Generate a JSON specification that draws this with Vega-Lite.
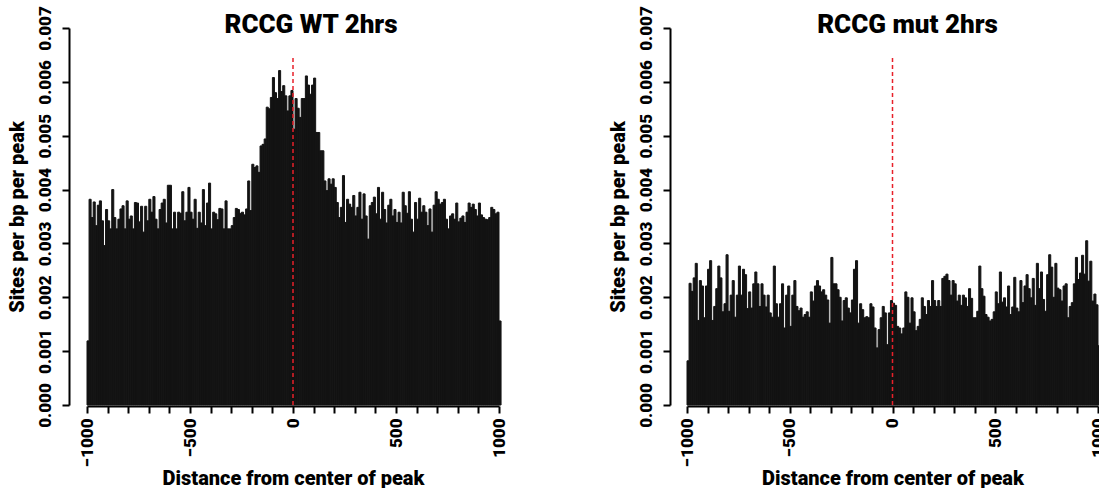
{
"$schema": "https://vega.github.io/schema/vega-lite/v6.json",
"background": "white",
"padding": {"left": 7, "top": 5, "right": 0, "bottom": 0},
"bounds": "flush",
"spacing": 188,
"config": {
  "view": {"stroke": null},
  "font": "Roboto",
  "axis": {"grid": false, "domainColor": "#000000", "domainWidth": 2, "tickColor": "#000000", "tickWidth": 2, "tickSize": 7, "labelFont": "Roboto", "labelFontWeight": 900, "labelFontSize": 17, "labelColor": "#000000", "titleFont": "Roboto", "titleFontWeight": 900, "titleFontSize": 20, "titleColor": "#000000", "labelFlush": false, "labelOverlap": false},
  "title": {"font": "Roboto", "fontWeight": 900, "fontSize": 26, "color": "#000000", "frame": "group", "anchor": "middle"}
},
"datasets": {
"ref": [{"x": 0, "y": 0, "y2": 0.0065}],
"wt": [
{"x":-1000,"x2":-990,"y":0.00119},{"x":-990,"x2":-980,"y":0.00382},{"x":-980,"x2":-970,"y":0.00348},{"x":-970,"x2":-960,"y":0.00377},{"x":-960,"x2":-950,"y":0.00333},{"x":-950,"x2":-940,"y":0.00371},{"x":-940,"x2":-930,"y":0.00379},{"x":-930,"x2":-920,"y":0.00342},{"x":-920,"x2":-910,"y":0.00296},{"x":-910,"x2":-900,"y":0.00363},
{"x":-900,"x2":-890,"y":0.00342},{"x":-890,"x2":-880,"y":0.00327},{"x":-880,"x2":-870,"y":0.00400},{"x":-870,"x2":-860,"y":0.00348},{"x":-860,"x2":-850,"y":0.00327},{"x":-850,"x2":-840,"y":0.00345},{"x":-840,"x2":-830,"y":0.00364},{"x":-830,"x2":-820,"y":0.00370},{"x":-820,"x2":-810,"y":0.00327},{"x":-810,"x2":-800,"y":0.00379},
{"x":-800,"x2":-790,"y":0.00345},{"x":-790,"x2":-780,"y":0.00351},{"x":-780,"x2":-770,"y":0.00327},{"x":-770,"x2":-760,"y":0.00376},{"x":-760,"x2":-750,"y":0.00375},{"x":-750,"x2":-740,"y":0.00340},{"x":-740,"x2":-730,"y":0.00369},{"x":-730,"x2":-720,"y":0.00321},{"x":-720,"x2":-710,"y":0.00369},{"x":-710,"x2":-700,"y":0.00342},
{"x":-700,"x2":-690,"y":0.00382},{"x":-690,"x2":-680,"y":0.00358},{"x":-680,"x2":-670,"y":0.00387},{"x":-670,"x2":-660,"y":0.00345},{"x":-660,"x2":-650,"y":0.00327},{"x":-650,"x2":-640,"y":0.00363},{"x":-640,"x2":-630,"y":0.00375},{"x":-630,"x2":-620,"y":0.00382},{"x":-620,"x2":-610,"y":0.00338},{"x":-610,"x2":-600,"y":0.00408},
{"x":-600,"x2":-590,"y":0.00408},{"x":-590,"x2":-580,"y":0.00327},{"x":-580,"x2":-570,"y":0.00358},{"x":-570,"x2":-560,"y":0.00327},{"x":-560,"x2":-550,"y":0.00358},{"x":-550,"x2":-540,"y":0.00356},{"x":-540,"x2":-530,"y":0.00396},{"x":-530,"x2":-520,"y":0.00342},{"x":-520,"x2":-510,"y":0.00358},{"x":-510,"x2":-500,"y":0.00404},
{"x":-500,"x2":-490,"y":0.00358},{"x":-490,"x2":-480,"y":0.00345},{"x":-480,"x2":-470,"y":0.00382},{"x":-470,"x2":-460,"y":0.00328},{"x":-460,"x2":-450,"y":0.00358},{"x":-450,"x2":-440,"y":0.00338},{"x":-440,"x2":-430,"y":0.00400},{"x":-430,"x2":-420,"y":0.00333},{"x":-420,"x2":-410,"y":0.00375},{"x":-410,"x2":-400,"y":0.00412},
{"x":-400,"x2":-390,"y":0.00327},{"x":-390,"x2":-380,"y":0.00358},{"x":-380,"x2":-370,"y":0.00355},{"x":-370,"x2":-360,"y":0.00344},{"x":-360,"x2":-350,"y":0.00365},{"x":-350,"x2":-340,"y":0.00364},{"x":-340,"x2":-330,"y":0.00327},{"x":-330,"x2":-320,"y":0.00379},{"x":-320,"x2":-310,"y":0.00327},{"x":-310,"x2":-300,"y":0.00327},
{"x":-300,"x2":-290,"y":0.00333},{"x":-290,"x2":-280,"y":0.00348},{"x":-280,"x2":-270,"y":0.00365},{"x":-270,"x2":-260,"y":0.00363},{"x":-260,"x2":-250,"y":0.00356},{"x":-250,"x2":-240,"y":0.00358},{"x":-240,"x2":-230,"y":0.00353},{"x":-230,"x2":-220,"y":0.00364},{"x":-220,"x2":-210,"y":0.00416},{"x":-210,"x2":-200,"y":0.00361},
{"x":-200,"x2":-190,"y":0.00447},{"x":-190,"x2":-180,"y":0.00441},{"x":-180,"x2":-170,"y":0.00444},{"x":-170,"x2":-160,"y":0.00432},{"x":-160,"x2":-150,"y":0.00481},{"x":-150,"x2":-140,"y":0.00484},{"x":-140,"x2":-130,"y":0.00494},{"x":-130,"x2":-120,"y":0.00553},{"x":-120,"x2":-110,"y":0.00550},{"x":-110,"x2":-100,"y":0.00571},
{"x":-100,"x2":-90,"y":0.00608},{"x":-90,"x2":-80,"y":0.00580},{"x":-80,"x2":-70,"y":0.00569},{"x":-70,"x2":-60,"y":0.00621},{"x":-60,"x2":-50,"y":0.00582},{"x":-50,"x2":-40,"y":0.00593},{"x":-40,"x2":-30,"y":0.00574},{"x":-30,"x2":-20,"y":0.00546},{"x":-20,"x2":-10,"y":0.00574},{"x":-10,"x2":0,"y":0.00584},
{"x":0,"x2":10,"y":0.00512},{"x":10,"x2":20,"y":0.00569},{"x":20,"x2":30,"y":0.00551},{"x":30,"x2":40,"y":0.00534},{"x":40,"x2":50,"y":0.00569},{"x":50,"x2":60,"y":0.00569},{"x":60,"x2":70,"y":0.00611},{"x":70,"x2":80,"y":0.00594},{"x":80,"x2":90,"y":0.00577},{"x":90,"x2":100,"y":0.00594},
{"x":100,"x2":110,"y":0.00607},{"x":110,"x2":120,"y":0.00506},{"x":120,"x2":130,"y":0.00506},{"x":130,"x2":140,"y":0.00472},{"x":140,"x2":150,"y":0.00472},{"x":150,"x2":160,"y":0.00416},{"x":160,"x2":170,"y":0.00398},{"x":170,"x2":180,"y":0.00420},{"x":180,"x2":190,"y":0.00410},{"x":190,"x2":200,"y":0.00420},
{"x":200,"x2":210,"y":0.00404},{"x":210,"x2":220,"y":0.00376},{"x":220,"x2":230,"y":0.00348},{"x":230,"x2":240,"y":0.00367},{"x":240,"x2":250,"y":0.00426},{"x":250,"x2":260,"y":0.00339},{"x":260,"x2":270,"y":0.00382},{"x":270,"x2":280,"y":0.00373},{"x":280,"x2":290,"y":0.00367},{"x":290,"x2":300,"y":0.00389},
{"x":300,"x2":310,"y":0.00351},{"x":310,"x2":320,"y":0.00367},{"x":320,"x2":330,"y":0.00395},{"x":330,"x2":340,"y":0.00345},{"x":340,"x2":350,"y":0.00392},{"x":350,"x2":360,"y":0.00351},{"x":360,"x2":370,"y":0.00308},{"x":370,"x2":380,"y":0.00370},{"x":380,"x2":390,"y":0.00376},{"x":390,"x2":400,"y":0.00386},
{"x":400,"x2":410,"y":0.00355},{"x":410,"x2":420,"y":0.00404},{"x":420,"x2":430,"y":0.00345},{"x":430,"x2":440,"y":0.00395},{"x":440,"x2":450,"y":0.00363},{"x":450,"x2":460,"y":0.00338},{"x":460,"x2":470,"y":0.00371},{"x":470,"x2":480,"y":0.00382},{"x":480,"x2":490,"y":0.00351},{"x":490,"x2":500,"y":0.00363},
{"x":500,"x2":510,"y":0.00339},{"x":510,"x2":520,"y":0.00358},{"x":520,"x2":530,"y":0.00338},{"x":530,"x2":540,"y":0.00395},{"x":540,"x2":550,"y":0.00370},{"x":550,"x2":560,"y":0.00356},{"x":560,"x2":570,"y":0.00396},{"x":570,"x2":580,"y":0.00345},{"x":580,"x2":590,"y":0.00321},{"x":590,"x2":600,"y":0.00376},
{"x":600,"x2":610,"y":0.00345},{"x":610,"x2":620,"y":0.00384},{"x":620,"x2":630,"y":0.00358},{"x":630,"x2":640,"y":0.00370},{"x":640,"x2":650,"y":0.00358},{"x":650,"x2":660,"y":0.00333},{"x":660,"x2":670,"y":0.00364},{"x":670,"x2":680,"y":0.00321},{"x":680,"x2":690,"y":0.00371},{"x":690,"x2":700,"y":0.00396},
{"x":700,"x2":710,"y":0.00382},{"x":710,"x2":720,"y":0.00373},{"x":720,"x2":730,"y":0.00376},{"x":730,"x2":740,"y":0.00382},{"x":740,"x2":750,"y":0.00345},{"x":750,"x2":760,"y":0.00327},{"x":760,"x2":770,"y":0.00351},{"x":770,"x2":780,"y":0.00355},{"x":780,"x2":790,"y":0.00345},{"x":790,"x2":800,"y":0.00375},
{"x":800,"x2":810,"y":0.00340},{"x":810,"x2":820,"y":0.00347},{"x":820,"x2":830,"y":0.00351},{"x":830,"x2":840,"y":0.00339},{"x":840,"x2":850,"y":0.00358},{"x":850,"x2":860,"y":0.00375},{"x":860,"x2":870,"y":0.00367},{"x":870,"x2":880,"y":0.00373},{"x":880,"x2":890,"y":0.00363},{"x":890,"x2":900,"y":0.00351},
{"x":900,"x2":910,"y":0.00375},{"x":910,"x2":920,"y":0.00353},{"x":920,"x2":930,"y":0.00348},{"x":930,"x2":940,"y":0.00345},{"x":940,"x2":950,"y":0.00344},{"x":950,"x2":960,"y":0.00348},{"x":960,"x2":970,"y":0.00367},{"x":970,"x2":980,"y":0.00363},{"x":980,"x2":990,"y":0.00355},{"x":990,"x2":1000,"y":0.00358},
{"x":1000,"x2":1010,"y":0.00156}
],
"mut": [
{"x":-1000,"x2":-990,"y":0.00082},{"x":-990,"x2":-980,"y":0.00226},{"x":-980,"x2":-970,"y":0.00211},{"x":-970,"x2":-960,"y":0.00236},{"x":-960,"x2":-950,"y":0.00263},{"x":-950,"x2":-940,"y":0.00157},{"x":-940,"x2":-930,"y":0.00231},{"x":-930,"x2":-920,"y":0.00221},{"x":-920,"x2":-910,"y":0.00162},{"x":-910,"x2":-900,"y":0.00221},
{"x":-900,"x2":-890,"y":0.00252},{"x":-890,"x2":-880,"y":0.00268},{"x":-880,"x2":-870,"y":0.00157},{"x":-870,"x2":-860,"y":0.00183},{"x":-860,"x2":-850,"y":0.00216},{"x":-850,"x2":-840,"y":0.00258},{"x":-840,"x2":-830,"y":0.00236},{"x":-830,"x2":-820,"y":0.00173},{"x":-820,"x2":-810,"y":0.00188},{"x":-810,"x2":-800,"y":0.00279},
{"x":-800,"x2":-790,"y":0.00174},{"x":-790,"x2":-780,"y":0.00204},{"x":-780,"x2":-770,"y":0.00231},{"x":-770,"x2":-760,"y":0.00163},{"x":-760,"x2":-750,"y":0.00204},{"x":-750,"x2":-740,"y":0.00258},{"x":-740,"x2":-730,"y":0.00204},{"x":-730,"x2":-720,"y":0.00252},{"x":-720,"x2":-710,"y":0.00242},{"x":-710,"x2":-700,"y":0.00179},
{"x":-700,"x2":-690,"y":0.00210},{"x":-690,"x2":-680,"y":0.00180},{"x":-680,"x2":-670,"y":0.00225},{"x":-670,"x2":-660,"y":0.00247},{"x":-660,"x2":-650,"y":0.00225},{"x":-650,"x2":-640,"y":0.00183},{"x":-640,"x2":-630,"y":0.00225},{"x":-630,"x2":-620,"y":0.00204},{"x":-620,"x2":-610,"y":0.00182},{"x":-610,"x2":-600,"y":0.00204},
{"x":-600,"x2":-590,"y":0.00171},{"x":-590,"x2":-580,"y":0.00163},{"x":-580,"x2":-570,"y":0.00258},{"x":-570,"x2":-560,"y":0.00188},{"x":-560,"x2":-550,"y":0.00163},{"x":-550,"x2":-540,"y":0.00188},{"x":-540,"x2":-530,"y":0.00225},{"x":-530,"x2":-520,"y":0.00143},{"x":-520,"x2":-510,"y":0.00204},{"x":-510,"x2":-500,"y":0.00221},
{"x":-500,"x2":-490,"y":0.00146},{"x":-490,"x2":-480,"y":0.00204},{"x":-480,"x2":-470,"y":0.00231},{"x":-470,"x2":-460,"y":0.00183},{"x":-460,"x2":-450,"y":0.00175},{"x":-450,"x2":-440,"y":0.00180},{"x":-440,"x2":-430,"y":0.00163},{"x":-430,"x2":-420,"y":0.00168},{"x":-420,"x2":-410,"y":0.00173},{"x":-410,"x2":-400,"y":0.00163},
{"x":-400,"x2":-390,"y":0.00210},{"x":-390,"x2":-380,"y":0.00193},{"x":-380,"x2":-370,"y":0.00221},{"x":-370,"x2":-360,"y":0.00231},{"x":-360,"x2":-350,"y":0.00221},{"x":-350,"x2":-340,"y":0.00210},{"x":-340,"x2":-330,"y":0.00214},{"x":-330,"x2":-320,"y":0.00204},{"x":-320,"x2":-310,"y":0.00195},{"x":-310,"x2":-300,"y":0.00152},
{"x":-300,"x2":-290,"y":0.00274},{"x":-290,"x2":-280,"y":0.00225},{"x":-280,"x2":-270,"y":0.00225},{"x":-270,"x2":-260,"y":0.00214},{"x":-260,"x2":-250,"y":0.00200},{"x":-250,"x2":-240,"y":0.00156},{"x":-240,"x2":-230,"y":0.00194},{"x":-230,"x2":-220,"y":0.00199},{"x":-220,"x2":-210,"y":0.00180},{"x":-210,"x2":-200,"y":0.00171},
{"x":-200,"x2":-190,"y":0.00195},{"x":-190,"x2":-180,"y":0.00252},{"x":-180,"x2":-170,"y":0.00268},{"x":-170,"x2":-160,"y":0.00152},{"x":-160,"x2":-150,"y":0.00188},{"x":-150,"x2":-140,"y":0.00177},{"x":-140,"x2":-130,"y":0.00162},{"x":-130,"x2":-120,"y":0.00164},{"x":-120,"x2":-110,"y":0.00162},{"x":-110,"x2":-100,"y":0.00188},
{"x":-100,"x2":-90,"y":0.00182},{"x":-90,"x2":-80,"y":0.00143},{"x":-80,"x2":-70,"y":0.00106},{"x":-70,"x2":-60,"y":0.00140},{"x":-60,"x2":-50,"y":0.00162},{"x":-50,"x2":-40,"y":0.00183},{"x":-40,"x2":-30,"y":0.00171},{"x":-30,"x2":-20,"y":0.00112},{"x":-20,"x2":-10,"y":0.00171},{"x":-10,"x2":0,"y":0.00194},
{"x":0,"x2":10,"y":0.00189},{"x":10,"x2":20,"y":0.00185},{"x":20,"x2":30,"y":0.00146},{"x":30,"x2":40,"y":0.00143},{"x":40,"x2":50,"y":0.00132},{"x":50,"x2":60,"y":0.00143},{"x":60,"x2":70,"y":0.00210},{"x":70,"x2":80,"y":0.00200},{"x":80,"x2":90,"y":0.00152},{"x":90,"x2":100,"y":0.00199},
{"x":100,"x2":110,"y":0.00173},{"x":110,"x2":120,"y":0.00138},{"x":120,"x2":130,"y":0.00146},{"x":130,"x2":140,"y":0.00159},{"x":140,"x2":150,"y":0.00199},{"x":150,"x2":160,"y":0.00183},{"x":160,"x2":170,"y":0.00168},{"x":170,"x2":180,"y":0.00194},{"x":180,"x2":190,"y":0.00183},{"x":190,"x2":200,"y":0.00231},
{"x":200,"x2":210,"y":0.00194},{"x":210,"x2":220,"y":0.00183},{"x":220,"x2":230,"y":0.00194},{"x":230,"x2":240,"y":0.00183},{"x":240,"x2":250,"y":0.00235},{"x":250,"x2":260,"y":0.00239},{"x":260,"x2":270,"y":0.00243},{"x":270,"x2":280,"y":0.00231},{"x":280,"x2":290,"y":0.00204},{"x":290,"x2":300,"y":0.00231},
{"x":300,"x2":310,"y":0.00225},{"x":310,"x2":320,"y":0.00193},{"x":320,"x2":330,"y":0.00204},{"x":330,"x2":340,"y":0.00185},{"x":340,"x2":350,"y":0.00204},{"x":350,"x2":360,"y":0.00199},{"x":360,"x2":370,"y":0.00183},{"x":370,"x2":380,"y":0.00216},{"x":380,"x2":390,"y":0.00198},{"x":390,"x2":400,"y":0.00162},
{"x":400,"x2":410,"y":0.00162},{"x":410,"x2":420,"y":0.00174},{"x":420,"x2":430,"y":0.00258},{"x":430,"x2":440,"y":0.00216},{"x":440,"x2":450,"y":0.00202},{"x":450,"x2":460,"y":0.00168},{"x":460,"x2":470,"y":0.00163},{"x":470,"x2":480,"y":0.00156},{"x":480,"x2":490,"y":0.00159},{"x":490,"x2":500,"y":0.00173},
{"x":500,"x2":510,"y":0.00210},{"x":510,"x2":520,"y":0.00188},{"x":520,"x2":530,"y":0.00247},{"x":530,"x2":540,"y":0.00191},{"x":540,"x2":550,"y":0.00199},{"x":550,"x2":560,"y":0.00182},{"x":560,"x2":570,"y":0.00221},{"x":570,"x2":580,"y":0.00168},{"x":580,"x2":590,"y":0.00182},{"x":590,"x2":600,"y":0.00237},
{"x":600,"x2":610,"y":0.00180},{"x":610,"x2":620,"y":0.00173},{"x":620,"x2":630,"y":0.00231},{"x":630,"x2":640,"y":0.00190},{"x":640,"x2":650,"y":0.00221},{"x":650,"x2":660,"y":0.00242},{"x":660,"x2":670,"y":0.00216},{"x":670,"x2":680,"y":0.00199},{"x":680,"x2":690,"y":0.00235},{"x":690,"x2":700,"y":0.00185},
{"x":700,"x2":710,"y":0.00263},{"x":710,"x2":720,"y":0.00216},{"x":720,"x2":730,"y":0.00247},{"x":730,"x2":740,"y":0.00196},{"x":740,"x2":750,"y":0.00174},{"x":750,"x2":760,"y":0.00242},{"x":760,"x2":770,"y":0.00279},{"x":770,"x2":780,"y":0.00256},{"x":780,"x2":790,"y":0.00200},{"x":790,"x2":800,"y":0.00263},
{"x":800,"x2":810,"y":0.00217},{"x":810,"x2":820,"y":0.00214},{"x":820,"x2":830,"y":0.00193},{"x":830,"x2":840,"y":0.00221},{"x":840,"x2":850,"y":0.00225},{"x":850,"x2":860,"y":0.00162},{"x":860,"x2":870,"y":0.00183},{"x":870,"x2":880,"y":0.00190},{"x":880,"x2":890,"y":0.00225},{"x":890,"x2":900,"y":0.00274},
{"x":900,"x2":910,"y":0.00233},{"x":910,"x2":920,"y":0.00245},{"x":920,"x2":930,"y":0.00278},{"x":930,"x2":940,"y":0.00243},{"x":940,"x2":950,"y":0.00305},{"x":950,"x2":960,"y":0.00230},{"x":960,"x2":970,"y":0.00267},{"x":970,"x2":980,"y":0.00193},{"x":980,"x2":990,"y":0.00206},{"x":990,"x2":1000,"y":0.00186},
{"x":1000,"x2":1010,"y":0.00110}
]
},
"hconcat": [
{
  "width": 412, "height": 377,
  "title": {"text": "RCCG WT 2hrs", "dx": 18, "offset": -32},
  "resolve": {"axis": {"x": "independent"}},
  "layer": [
    {"data": {"name": "wt"}, "mark": {"type": "bar", "color": "#131313", "stroke": "#131313", "strokeWidth": 1},
     "encoding": {
       "x": {"field": "x", "type": "quantitative", "scale": {"domain": [-1000, 1000], "nice": false, "zero": false},
             "axis": {"orient": "bottom", "title": "Distance from center of peak", "values": [-1000,-900,-800,-700,-600,-500,-400,-300,-200,-100,0,100,200,300,400,500,600,700,800,900,1000], "labels": false, "offset": 1, "titlePadding": 54}},
       "x2": {"field": "x2"},
       "y": {"field": "y", "type": "quantitative", "scale": {"domain": [0, 0.007], "nice": false},
             "axis": {"title": "Sites per bp per peak", "values": [0,0.001,0.002,0.003,0.004,0.005,0.006,0.007], "format": ".3f", "labelAngle": -90, "labelOverlap": false, "offset": 18, "labelPadding": 8, "titlePadding": 9}},
       "y2": {"datum": 0}
     }},
    {"data": {"name": "ref"}, "mark": {"type": "rule", "color": "#e8202a", "strokeDash": [4, 3], "strokeWidth": 1.5},
     "encoding": {"x": {"field": "x", "type": "quantitative", "axis": {"orient": "bottom", "title": null, "values": [-1000,-500,0,500,1000], "format": "d", "ticks": false, "domain": false, "labelAngle": -90, "labelOverlap": false, "offset": 1, "labelPadding": 12}}, "y": {"field": "y", "type": "quantitative"}, "y2": {"field": "y2"}}}
  ]
},
{
  "width": 411, "height": 377,
  "title": {"text": "RCCG mut 2hrs", "dx": 15, "offset": -32},
  "resolve": {"axis": {"x": "independent"}},
  "layer": [
    {"data": {"name": "mut"}, "mark": {"type": "bar", "color": "#131313", "stroke": "#131313", "strokeWidth": 1},
     "encoding": {
       "x": {"field": "x", "type": "quantitative", "scale": {"domain": [-1000, 1000], "nice": false, "zero": false},
             "axis": {"orient": "bottom", "title": "Distance from center of peak", "values": [-1000,-900,-800,-700,-600,-500,-400,-300,-200,-100,0,100,200,300,400,500,600,700,800,900,1000], "labels": false, "offset": 1, "titlePadding": 54}},
       "x2": {"field": "x2"},
       "y": {"field": "y", "type": "quantitative", "scale": {"domain": [0, 0.007], "nice": false},
             "axis": {"title": "Sites per bp per peak", "values": [0,0.001,0.002,0.003,0.004,0.005,0.006,0.007], "format": ".3f", "labelAngle": -90, "labelOverlap": false, "offset": 17, "labelPadding": 8, "titlePadding": 9}},
       "y2": {"datum": 0}
     }},
    {"data": {"name": "ref"}, "mark": {"type": "rule", "color": "#e8202a", "strokeDash": [4, 3], "strokeWidth": 1.5},
     "encoding": {"x": {"field": "x", "type": "quantitative", "axis": {"orient": "bottom", "title": null, "values": [-1000,-500,0,500,1000], "format": "d", "ticks": false, "domain": false, "labelAngle": -90, "labelOverlap": false, "offset": 1, "labelPadding": 12}}, "y": {"field": "y", "type": "quantitative"}, "y2": {"field": "y2"}}}
  ]
}
]
}
